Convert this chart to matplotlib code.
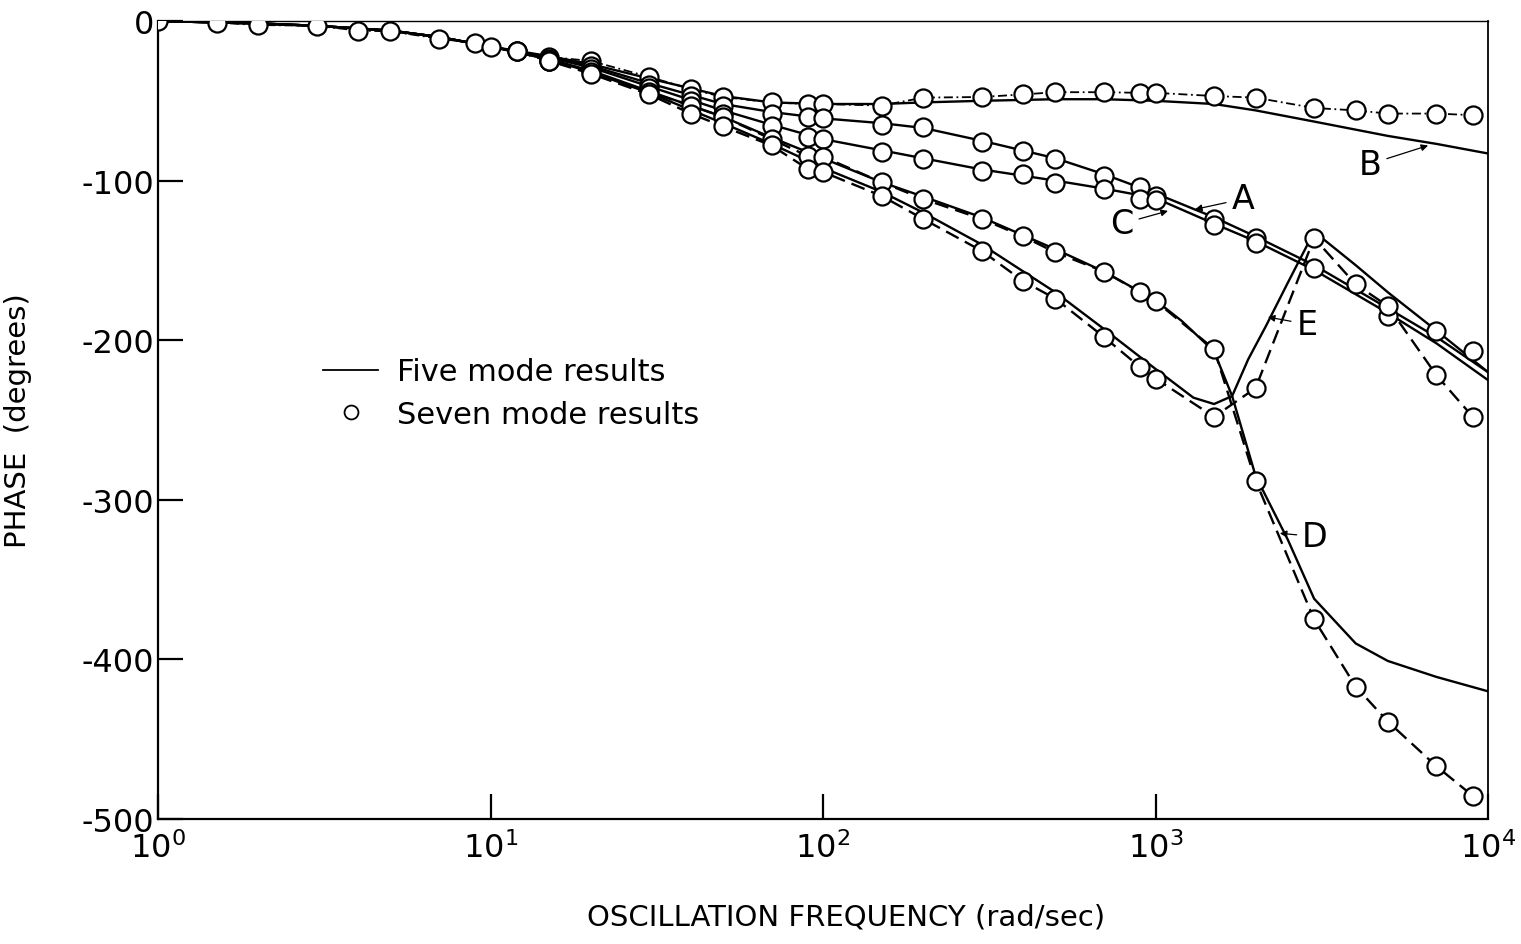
import matplotlib
matplotlib.use("Agg")
import matplotlib.pyplot as plt
from matplotlib.lines import Line2D

plt.rcParams['font.family'] = ['DejaVu Sans']
plt.rcParams['axes.unicode_minus'] = False

# five mode results (solid lines)
f5 = [1, 2, 3, 5, 7, 10, 15, 20, 30, 50, 70, 100, 150, 200, 300, 500, 700,
      1000, 1500, 2000, 3000, 5000, 7000, 10000]
B5 = [0, -1.5, -3, -6, -10, -16, -22, -27, -36, -47, -51, -52, -52, -51, -50,
      -49, -49, -50, -52, -56, -63, -72, -77, -83]
A5 = [0, -1.5, -3, -6, -10, -16, -23, -28, -39, -52, -57, -61, -64, -67, -75,
      -86, -96, -108, -123, -135, -153, -180, -198, -220]
C5 = [0, -1.5, -3, -6, -10, -16, -23, -29, -41, -56, -65, -74, -81, -86, -93,
      -100, -105, -111, -127, -138, -156, -183, -202, -225]

fD5 = [1, 2, 3, 5, 7, 10, 15, 20, 30, 50, 70, 100, 150, 200, 300, 500, 700,
       1000, 1200, 1500, 1700, 2000, 2500, 3000, 4000, 5000, 7000, 10000]
D5 = [0, -1.5, -3, -6, -10, -16, -24, -31, -44, -60, -73, -86, -101, -110,
      -123, -143, -157, -175, -188, -207, -235, -285, -325, -362, -390, -401,
      -411, -420]

fE5 = [1, 2, 3, 5, 7, 10, 15, 20, 30, 50, 70, 100, 150, 200, 300, 500, 700,
       1000, 1300, 1500, 1700, 1900, 2150, 2500, 3000, 4000, 5000, 7000, 10000]
E5 = [0, -1.5, -3, -6, -10, -16, -24, -32, -45, -64, -77, -92, -107, -120,
      -140, -170, -193, -218, -236, -240, -235, -212, -191, -164, -132, -153,
      -170, -194, -220]

# seven mode results (circles)
f7 = [1, 1.5, 2, 3, 4, 5, 7, 9, 10, 12, 15, 20, 30, 40, 50, 70, 90, 100, 150,
      200, 300, 400, 500, 700, 900, 1000, 1500, 2000, 3000, 4000, 5000, 7000,
      9000]
B7 = [0, -1, -2.5, -3, -6, -6.5, -11, -14, -16, -19, -22.5, -25, -35, -42.6,
      -47.6, -51, -52, -52, -53, -48, -47.6, -46, -44.6, -44.6, -45, -45, -47,
      -48, -54.5, -56, -58, -58, -59]

fA7 = [15, 20, 30, 40, 50, 70, 90, 100, 150, 200, 300, 400, 500, 700, 900,
       1000, 1500, 2000, 3000, 5000, 7000, 9000]
A7 = [-24, -28, -40, -47, -53, -58, -60, -61, -65, -66.5, -76, -81.5, -86.5,
      -97, -104, -109.5, -124, -136, -155, -185, -194, -207]

fC7 = [15, 20, 30, 40, 50, 70, 90, 100, 150, 200, 300, 400, 500, 700, 900,
       1000, 1500, 2000]
C7 = [-25, -30, -42, -50, -58, -66, -72.7, -74, -82, -86.5, -94, -96, -101.5,
      -105, -111.5, -112, -128, -139]

fD7 = [12, 15, 20, 30, 40, 50, 70, 90, 100, 150, 200, 300, 400, 500, 700, 900,
       1000, 1500, 2000, 3000, 4000, 5000, 7000, 9000]
D7 = [-19, -25, -32, -44.5, -53, -60, -74, -84.6, -85, -101, -111.5, -124,
      -135, -145, -157, -170, -175.5, -205.5, -288, -375, -417, -439, -467,
      -485.5]

fE7 = [12, 15, 20, 30, 40, 50, 70, 90, 100, 150, 200, 300, 400, 500, 700, 900,
       1000, 1500, 2000, 3000, 4000, 5000, 7000, 9000]
E7 = [-19, -25, -33, -46, -58, -66, -78, -92.7, -94.6, -109.6, -124, -144,
      -163, -174, -198, -217, -224, -248, -230, -136, -165, -178.6, -222, -248]

fig = plt.figure(figsize=(15.21, 9.45), dpi=100)
ax = fig.add_axes([0.1039, 0.1323, 0.8744, 0.8444])

lw = 1.7
for f, y in [(f5, B5), (f5, A5), (f5, C5), (fD5, D5), (fE5, E5)]:
    ax.plot(f, y, color='black', lw=lw, zorder=2)

# dashed connectors of the seven mode points
ax.plot(f7, B7, color='black', lw=1.3, ls=(0, (5, 2, 1, 2)), zorder=2)
ax.plot(fD7, D7, color='black', lw=lw, ls=(0, (6, 3)), zorder=2)
ax.plot(fE7, E7, color='black', lw=lw, ls=(0, (6, 3)), zorder=2)

mk = dict(ls='none', marker='o', ms=13, mfc='white', mec='black', mew=1.6,
          zorder=3)
for f, y in [(f7, B7), (fA7, A7), (fC7, C7), (fD7, D7), (fE7, E7)]:
    ax.plot(f, y, **mk)

ax.set_xscale('log')
ax.set_xlim(1, 1e4)
ax.set_ylim(-500, 0)
ax.set_yticks([0, -100, -200, -300, -400, -500])
ax.set_xticks([1, 10, 100, 1000, 10000])
ax.minorticks_off()
ax.tick_params(direction='in', length=18, width=1.6, labelsize=23)
ax.tick_params(axis='y', pad=3)
ax.tick_params(axis='x', pad=9)
for s in ax.spines.values():
    s.set_linewidth(1.6)
ax.spines['top'].set_linewidth(1.0)
ax.spines['right'].set_linewidth(1.3)

ax.set_xlabel('OSCILLATION FREQUENCY (rad/sec)', fontsize=21)
ax.xaxis.set_label_coords(0.517, -0.105)
ax.set_ylabel('PHASE  (degrees)', fontsize=21)
ax.yaxis.set_label_coords(-0.095, 0.5)

# curve labels
labels = [('A', 1833, -111.5, 1315, -118),
          ('B', 4416, -89.6, 6606, -78),
          ('C', 793, -127, 1090, -119),
          ('D', 3020, -323, 2366, -321),
          ('E', 2857, -190, 2178, -185.5)]
for name, tx, ty, px, py in labels:
    ax.annotate(name, xy=(px, py), xytext=(tx, ty), fontsize=24,
                ha='center', va='center',
                arrowprops=dict(arrowstyle='-|>', lw=0.9, color='black',
                                mutation_scale=10, shrinkA=2, shrinkB=0))

handles = [Line2D([], [], color='black', lw=1.3),
           Line2D([], [], ls='none', marker='o', ms=10, mfc='white',
                  mec='black', mew=1.3)]
ax.legend(handles, ['Five mode results', 'Seven mode results'],
          loc='upper left', bbox_to_anchor=(308 / 1521, 1 - 343 / 945),
          bbox_transform=fig.transFigure, frameon=False, fontsize=22,
          handlelength=1.8, handletextpad=0.6, labelspacing=0.45,
          borderpad=0)

fig.savefig('out.png', dpi=100)
